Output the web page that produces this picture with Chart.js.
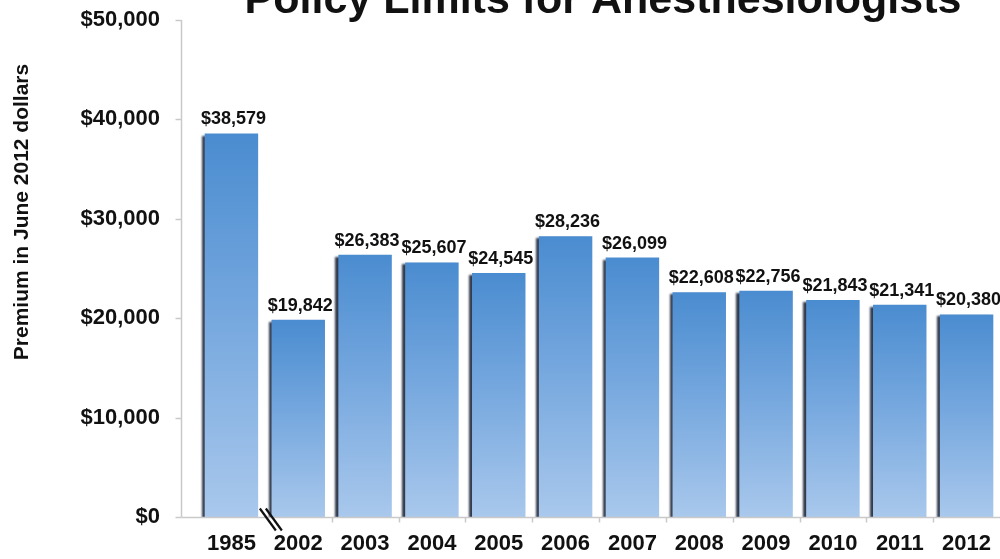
<!DOCTYPE html>
<html>
<head>
<meta charset="utf-8">
<script src="https://cdn.jsdelivr.net/npm/chart.js@4"></script>
<style>
    html, body { margin: 0; padding: 0; background: #fff; overflow: hidden; }
    #wrap { width: 1000px; height: 559px; position: relative; }
</style>
</head>
<body>
<div id="wrap"><canvas id="premios"></canvas></div>
<script>
// dados do gráfico
const anos = ['1985', '2002', '2003', '2004', '2005', '2006', '2007', '2008', '2009', '2010', '2011', '2012'];
const premios = [38579, 19842, 26383, 25607, 24545, 28236, 26099, 22608, 22756, 21843, 21341, 20380];
const ticksY = [0, 10000, 20000, 30000, 40000, 50000];
const titulo = 'Policy Limits for Anesthesiologists';
const tituloY = 'Premium in June 2012 dollars';

const fonte = '"Liberation Sans", Arial, Helvetica, sans-serif';

function dinheiro(v) {
    return '$' + v.toLocaleString('en-US');
}

// sombra nas barras + rótulos, eixos e título
const extras = {
    id: 'extras',
    beforeDatasetsDraw(chart) {
        const ctx = chart.ctx;
        ctx.save();
        ctx.shadowColor = 'rgba(15, 25, 45, 0.85)';
        ctx.shadowOffsetX = -3;
        ctx.shadowOffsetY = 2;
        ctx.shadowBlur = 2;
    },
    afterDatasetsDraw(chart) {
        const ctx = chart.ctx;
        ctx.restore();
        const area = chart.chartArea;
        const x = chart.scales.x;
        const y = chart.scales.y;

        // eixo vertical separado das barras
        const eixoX = 181.5;
        ctx.save();
        ctx.strokeStyle = '#c9c9c9';
        ctx.lineWidth = 1.5;
        ctx.beginPath();
        ctx.moveTo(eixoX, y.getPixelForValue(50000));
        ctx.lineTo(eixoX, y.getPixelForValue(0));
        ctx.stroke();
        ticksY.forEach(t => {
            const py = Math.round(y.getPixelForValue(t)) + 0.5;
            ctx.beginPath();
            ctx.moveTo(eixoX - 6, py);
            ctx.lineTo(eixoX, py);
            ctx.stroke();
        });

        // eixo horizontal
        const base = Math.round(y.getPixelForValue(0)) + 0.5;
        ctx.beginPath();
        ctx.moveTo(eixoX, base);
        ctx.lineTo(area.right, base);
        ctx.stroke();
        for (let i = 2; i < anos.length; i++) {
            const px = Math.round((x.getPixelForValue(i - 1) + x.getPixelForValue(i)) / 2) + 0.5;
            ctx.beginPath();
            ctx.moveTo(px, base);
            ctx.lineTo(px, base + 5);
            ctx.stroke();
        }

        // marca de quebra entre 1985 e 2002
        const qx = (x.getPixelForValue(0) + x.getPixelForValue(1)) / 2 + 6;
        ctx.strokeStyle = '#111';
        ctx.lineWidth = 2.2;
        [-3, 3].forEach(d => {
            ctx.beginPath();
            ctx.moveTo(qx - 8 + d, base - 9);
            ctx.lineTo(qx + 8 + d, base + 13);
            ctx.stroke();
        });

        // valores acima das barras
        ctx.fillStyle = '#111';
        ctx.font = 'bold 18px ' + fonte;
        ctx.textAlign = 'center';
        ctx.textBaseline = 'bottom';
        const meta = chart.getDatasetMeta(0);
        meta.data.forEach((bar, i) => {
            ctx.fillText(dinheiro(premios[i]), bar.x + 2, bar.y - 5);
        });

        // título (cortado no topo como no original)
        ctx.font = 'bold 43px ' + fonte;
        ctx.textBaseline = 'alphabetic';
        ctx.fillText(titulo, 603, 13);

        // título do eixo Y
        ctx.translate(22, 212);
        ctx.rotate(-Math.PI / 2);
        ctx.font = 'bold 21px ' + fonte;
        ctx.textBaseline = 'middle';
        ctx.fillText(tituloY, 0, 0);
        ctx.restore();
    }
};

function gradienteBarra(context) {
    const chart = context.chart;
    const y = chart.scales.y;
    if (!chart.chartArea || !y || context.parsed === undefined) return '#6a9fd8';
    const topo = y.getPixelForValue(context.parsed.y);
    const base = y.getPixelForValue(0);
    const g = chart.ctx.createLinearGradient(0, topo, 0, base);
    g.addColorStop(0, '#4a8cd0');
    g.addColorStop(0.5, '#78a9df');
    g.addColorStop(1, '#a9c8ec');
    return g;
}

const ctxPremios = document.getElementById('premios');
new Chart(ctxPremios, {
    type: 'bar',
    data: {
        labels: anos,
        datasets: [{
            data: premios,
            backgroundColor: gradienteBarra,
            borderWidth: 0,
            barPercentage: 0.8,
            categoryPercentage: 1.0
        }]
    },
    options: {
        responsive: true,
        maintainAspectRatio: false,
        animation: false,
        layout: { padding: { top: 20, right: 0, left: 0, bottom: 0 } },
        plugins: {
            legend: { display: false },
            tooltip: { enabled: false },
            title: { display: false }
        },
        scales: {
            x: {
                grid: { display: false, drawTicks: false },
                border: { display: false },
                ticks: {
                    color: '#111',
                    font: { family: fonte, size: 22, weight: 'bold' },
                    padding: 14,
                    maxRotation: 0
                },
                afterFit(scale) {
                    scale.height = 42;
                    scale.paddingLeft = 0;
                    scale.paddingRight = 0;
                }
            },
            y: {
                min: 0,
                max: 50000,
                afterBuildTicks(scale) {
                    scale.ticks = ticksY.map(v => ({ value: v }));
                },
                grid: { display: false, drawTicks: false },
                border: { display: false },
                ticks: {
                    color: '#111',
                    font: { family: fonte, size: 22, weight: 'bold' },
                    padding: 38,
                    callback: v => dinheiro(v)
                },
                afterFit(scale) {
                    scale.width = 198;
                    scale.paddingTop = 0;
                    scale.paddingBottom = 0;
                }
            }
        }
    },
    plugins: [extras]
});
</script>
</body>
</html>
